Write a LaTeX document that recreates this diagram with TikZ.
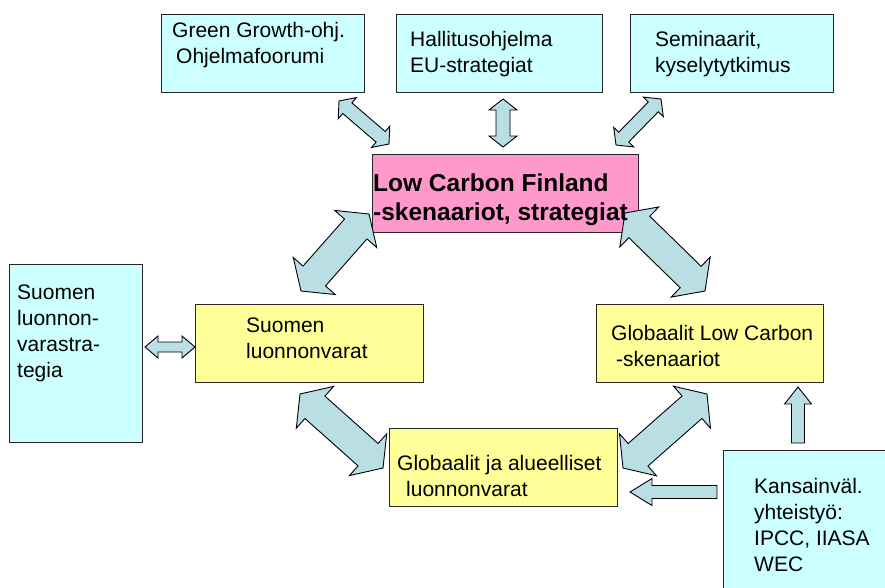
\documentclass[tikz,border=0pt]{standalone}
\usepackage{fontspec}
\setmainfont{Liberation Sans}
\usetikzlibrary{calc}

\definecolor{boxcyan}{HTML}{CCFFFF}
\definecolor{boxyellow}{HTML}{FFFF99}
\definecolor{boxpink}{HTML}{FF99CC}
\definecolor{arrowfill}{RGB}{185,222,228}

% block arrow with two heads: from, to, half shaft, half head, head length
\newcommand{\dblarrow}[5]{
  \coordinate (h1) at ($(#1)!#5!(#2)$);
  \coordinate (h2) at ($(#2)!#5!(#1)$);
  \filldraw[blockarrow] (#1) -- ($(h1)!#4!90:(#2)$) -- ($(h1)!#3!90:(#2)$)
    -- ($(h2)!#3!-90:(#1)$) -- ($(h2)!#4!-90:(#1)$) -- (#2)
    -- ($(h2)!#4!90:(#1)$) -- ($(h2)!#3!90:(#1)$)
    -- ($(h1)!#3!-90:(#2)$) -- ($(h1)!#4!-90:(#2)$) -- cycle;
}
% block arrow with one head: tail, tip, half shaft, half head, head length
\newcommand{\sglarrow}[5]{
  \coordinate (h1) at ($(#2)!#5!(#1)$);
  \filldraw[blockarrow] (#2) -- ($(h1)!#4!90:(#1)$) -- ($(h1)!#3!90:(#1)$)
    -- ($(#1)!#3!-90:(h1)$) -- ($(#1)!#3!90:(h1)$)
    -- ($(h1)!#3!-90:(#1)$) -- ($(h1)!#4!-90:(#1)$) -- cycle;
}

\begin{document}
\begin{tikzpicture}
            [x=1pt,y=-1pt,
             box/.style ={draw=black!85,line width=1.2pt,anchor=north west,inner sep=0pt},
             cyanbox/.style ={box,fill=boxcyan},
             yellowbox/.style ={box,fill=boxyellow},
             pinkbox/.style ={box,fill=boxpink},
             txt/.style ={anchor=north west,inner sep=0pt,align=left,
                          font=\fontsize{21}{26}\selectfont},
             boldtxt/.style ={txt,font=\fontsize{24.5}{29}\selectfont\bfseries},
             blockarrow/.style ={fill=arrowfill,draw=black,line width=0.9pt,line join=miter}]
            \clip (0,0) rectangle (885,587);
            \useasboundingbox (0,0) rectangle (885,587);
            % boxes
            \node[cyanbox,minimum width=203pt,minimum height=78pt] (green) at (161,14) {};
            \node[cyanbox,minimum width=206pt,minimum height=78pt] (hall) at (396,14) {};
            \node[cyanbox,minimum width=203pt,minimum height=78pt] (sem) at (630,14) {};
            \node[pinkbox,minimum width=266pt,minimum height=78pt] (lcf) at (372,154) {};
            \node[cyanbox,minimum width=133pt,minimum height=178pt] (strat) at (9,264) {};
            \node[yellowbox,minimum width=228pt,minimum height=78pt] (suomi) at (195,304) {};
            \node[yellowbox,minimum width=227pt,minimum height=78pt] (glc) at (596,304) {};
            \node[yellowbox,minimum width=228pt,minimum height=78pt] (gja) at (389,428) {};
            \node[cyanbox,minimum width=180pt,minimum height=150pt] (kv) at (723,450) {};
            % arrow ends
            \coordinate (gtip) at (339,101);   \coordinate (lgtip) at (389,144);
            \coordinate (htip) at (503,99);    \coordinate (lhtip) at (503,147);
            \coordinate (stip) at (661,99);    \coordinate (lstip) at (616,145);
            \coordinate (lctip) at (369,214);  \coordinate (sutip) at (301,291);
            \coordinate (rctip) at (625,213);  \coordinate (gltip) at (705,291);
            \coordinate (subtip) at (300,394); \coordinate (gjltip) at (383,468);
            \coordinate (glbtip) at (707,394); \coordinate (gjrtip) at (623,468);
            \coordinate (sttip) at (145,347);  \coordinate (sultip) at (195,347);
            \coordinate (kvtop) at (798,443);  \coordinate (glctip) at (798,387);
            \coordinate (kvleft) at (717,492); \coordinate (gjtip) at (630,492);
            % arrows
            \dblarrow{gtip}{lgtip}{7pt}{14pt}{11pt}
            \dblarrow{htip}{lhtip}{7pt}{14pt}{11pt}
            \dblarrow{stip}{lstip}{7pt}{14pt}{11pt}
            \dblarrow{lctip}{sutip}{15pt}{28pt}{20pt}
            \dblarrow{rctip}{gltip}{15pt}{28pt}{20pt}
            \dblarrow{subtip}{gjltip}{15pt}{28pt}{20pt}
            \dblarrow{glbtip}{gjrtip}{15pt}{28pt}{20pt}
            \dblarrow{sttip}{sultip}{5pt}{11pt}{13pt}
            \sglarrow{kvtop}{glctip}{6.5pt}{13.5pt}{17pt}
            \sglarrow{kvleft}{gjtip}{6.5pt}{13.5pt}{22pt}
            % texts
            \node[txt] (greentext) at (172,22) {Green Growth-ohj.\\\hspace*{4pt}Ohjelmafoorumi};
            \node[txt] (halltext) at (410,31) {Hallitusohjelma\\EU-strategiat};
            \node[txt] (semtext) at (655,31) {Seminaarit,\\kyselytytkimus};
            \node[boldtxt] (lcftext) at (373,174) {Low Carbon Finland\\-skenaariot, strategiat};
            \node[txt] (strattext) at (17,285) {Suomen\\luonnon-\\varastra-\\tegia};
            \node[txt] (suomitext) at (246,318) {Suomen\\luonnonvarat};
            \node[txt] (glctext) at (611,325) {Globaalit Low Carbon\\\hspace*{5pt}-skenaariot};
            \node[txt] (gjatext) at (397,455) {Globaalit ja alueelliset\\\hspace*{9pt}luonnonvarat};
            \node[txt] (kvtext) at (754,478) {Kansainväl.\\yhteistyö:\\IPCC, IIASA\\WEC};
        \end{tikzpicture}
\end{document}
